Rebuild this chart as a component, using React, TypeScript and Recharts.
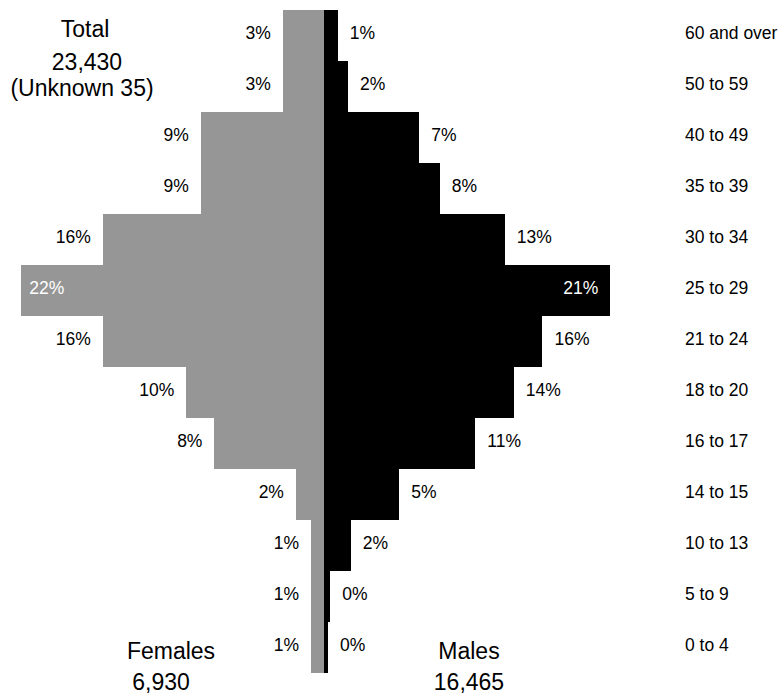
import { BarChart, Bar, XAxis, YAxis, LabelList } from 'recharts'

// age groups, top row first
const ageGroups = [
  '60 and over', '50 to 59', '40 to 49', '35 to 39', '30 to 34', '25 to 29', '21 to 24',
  '18 to 20', '16 to 17', '14 to 15', '10 to 13', '5 to 9', '0 to 4',
]
// share of each sex in the age group, %
const femalePct = [3.0, 3.0, 9.0, 9.0, 16.15, 22.1, 16.15, 10.05, 8.0, 2.05, 0.95, 0.95, 0.95]
const malePct = [1.0, 1.75, 6.95, 8.45, 13.2, 20.9, 15.95, 13.85, 11.05, 5.49, 1.95, 0.45, 0.3]

const data = ageGroups.map((age, i) => ({ age, female: -femalePct[i], male: malePct[i] }))

const FONT = '"Liberation Sans", Arial, sans-serif'
const LABEL_SIZE = 17.5
const BIG_SIZE = 23

const AgeTick = (props: any) => (
  <text x={props.x} y={props.y + 3.5} textAnchor="start" fontSize={LABEL_SIZE} fill="#000" fontFamily={FONT}>
    {props.payload.value}
  </text>
)

const pctLabel = (side: 'f' | 'm') => (props: any) => {
  const vb = props.viewBox ?? props
  const x0 = Number(vb.x)
  const w = Number(vb.width)
  const left = Math.min(x0, x0 + w)
  const right = Math.max(x0, x0 + w)
  const cy = Number(vb.y) + Number(vb.height) / 2 + 3.5
  const v = side === 'f' ? femalePct[props.index] : malePct[props.index]
  const inside = v >= 20
  let x = 0
  let anchor: 'start' | 'end' = 'start'
  if (side === 'f') {
    x = inside ? left + 8 : left - 12
    anchor = inside ? 'start' : 'end'
  } else {
    x = inside ? right - 12 : right + 12
    anchor = inside ? 'end' : 'start'
  }
  return (
    <text x={x} y={cy} textAnchor={anchor} fontSize={LABEL_SIZE} fontFamily={FONT} fill={inside ? '#fff' : '#000'}>
      {Math.round(v)}%
    </text>
  )
}

export default function App() {
  return (
    <div style={{ position: 'absolute', left: 0, top: 0, width: 782, height: 695, background: '#fff', fontFamily: FONT }}>
      <BarChart
        width={782}
        height={695}
        data={data}
        layout="vertical"
        stackOffset="sign"
        barCategoryGap={0}
        margin={{ top: 10, right: 0, bottom: 22, left: 9 }}
      >
        <XAxis type="number" domain={[-23, 23]} hide />
        <YAxis
          type="category"
          dataKey="age"
          orientation="right"
          width={143}
          axisLine={false}
          tickLine={false}
          tickSize={0}
          tickMargin={46}
          interval={0}
          tick={<AgeTick />}
        />
        <Bar dataKey="female" stackId="a" fill="#969696" shapeRendering="crispEdges" isAnimationActive={false}>
          <LabelList dataKey="female" content={pctLabel('f')} />
        </Bar>
        <Bar dataKey="male" stackId="a" fill="#000000" shapeRendering="crispEdges" isAnimationActive={false}>
          <LabelList dataKey="male" content={pctLabel('m')} />
        </Bar>
      </BarChart>
      <svg width={782} height={695} style={{ position: 'absolute', left: 0, top: 0, pointerEvents: 'none' }}>
        <g fontFamily={FONT} fontSize={BIG_SIZE} fill="#000" textAnchor="middle">
          <text x={85} y={36.5}>Total</text>
          <text x={87} y={70}>23,430</text>
          <text x={82} y={96}>(Unknown 35)</text>
          <text x={171} y={659}>Females</text>
          <text x={161} y={690}>6,930</text>
          <text x={469} y={659}>Males</text>
          <text x={469} y={690}>16,465</text>
        </g>
      </svg>
    </div>
  )
}
